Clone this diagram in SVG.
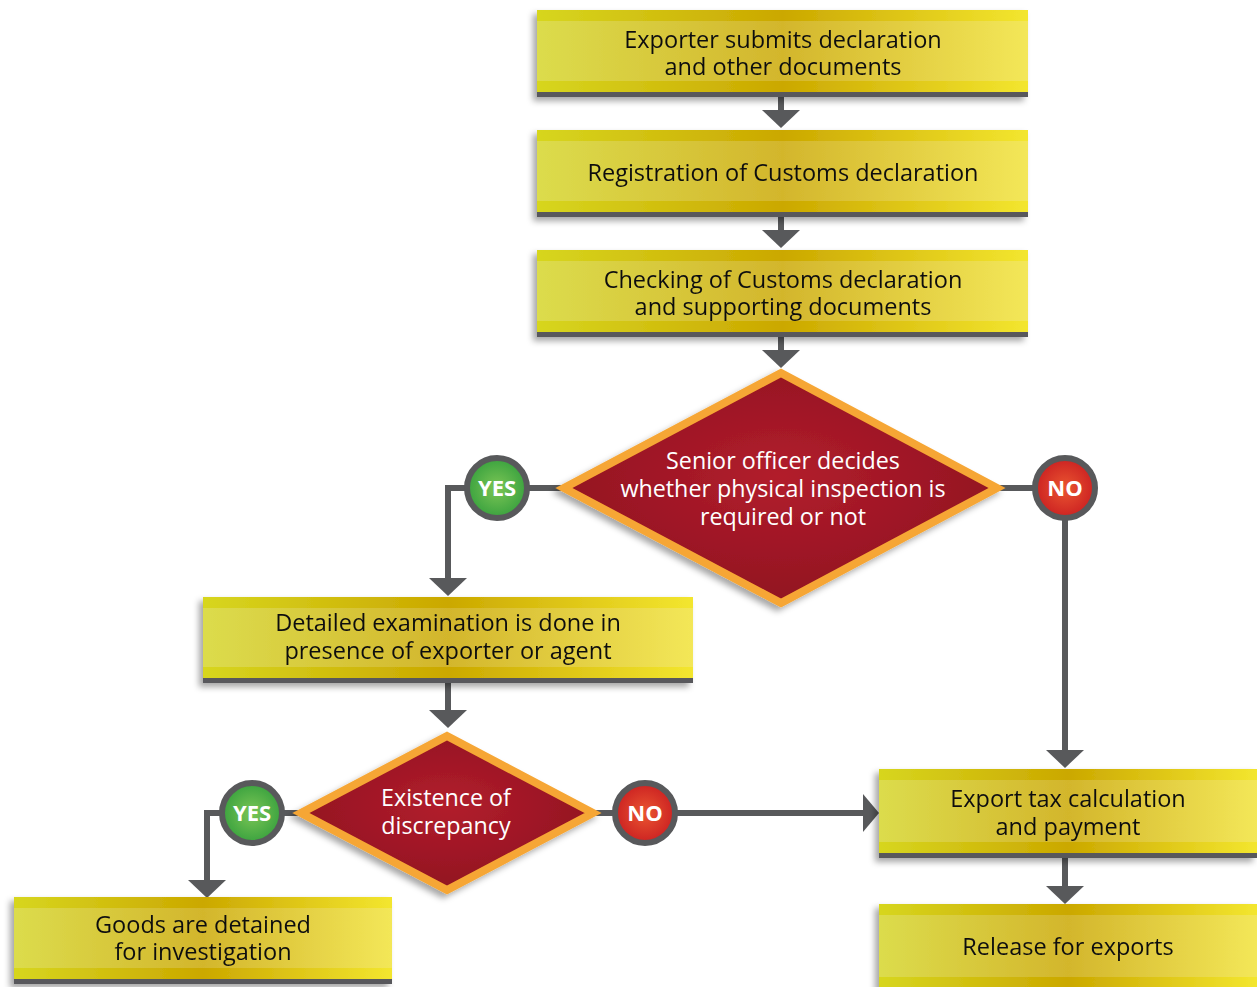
<svg xmlns="http://www.w3.org/2000/svg" width="1257" height="987" viewBox="0 0 1257 987">
<defs>
<linearGradient id="band" x1="0" y1="0" x2="1" y2="0">
<stop offset="0" stop-color="#d7d61f"/><stop offset="0.5" stop-color="#cba800"/><stop offset="1" stop-color="#f3e62f"/>
</linearGradient>
<linearGradient id="body" x1="0" y1="0" x2="1" y2="0">
<stop offset="0" stop-color="#dcdc4c"/><stop offset="0.5" stop-color="#d3b62c"/><stop offset="1" stop-color="#f3e758"/>
</linearGradient>
<radialGradient id="red" cx="0.5" cy="0.45" r="0.6">
<stop offset="0" stop-color="#b21e2c"/><stop offset="1" stop-color="#8e1020"/>
</radialGradient>
<radialGradient id="green" cx="0.5" cy="0.5" r="0.5">
<stop offset="0" stop-color="#7cc655"/><stop offset="1" stop-color="#3aa23f"/>
</radialGradient>
<radialGradient id="nored" cx="0.5" cy="0.5" r="0.5">
<stop offset="0" stop-color="#ea5530"/><stop offset="1" stop-color="#cc2222"/>
</radialGradient>
<filter id="sh" x="-5%" y="-10%" width="110%" height="130%">
<feDropShadow dx="-4" dy="4" stdDeviation="3" flood-color="#000" flood-opacity="0.35"/>
</filter>
</defs>
<style>
.c{stroke:#58595b;stroke-width:6;fill:none}
.ah{fill:#58595b}
.t{font-family:"Open Sans","Liberation Sans",sans-serif;font-size:23.5px;fill:#111;text-anchor:middle}
.w{font-family:"Open Sans","Liberation Sans",sans-serif;font-size:23.3px;fill:#fff;text-anchor:middle}
.b{font-family:"Open Sans","Liberation Sans",sans-serif;font-size:22px;font-weight:bold;fill:#fff;text-anchor:middle}
.ring{stroke:#58595b;stroke-width:6}
.dia{fill:url(#red);stroke:#f6a634;stroke-width:8;stroke-linejoin:miter}
</style>

<g id="connectors">
<path class="c" d="M781,97 V112"/><path class="ah" d="M762,110 H800 L781,128 z"/>
<path class="c" d="M781,217 V232"/><path class="ah" d="M762,230 H800 L781,248 z"/>
<path class="c" d="M781,337 V352"/><path class="ah" d="M762,350 H800 L781,368 z"/>
<path class="c" d="M562,488 H529"/>
<path class="c" d="M465,488 H448 V578"/><path class="ah" d="M429,578 H467 L448,596 z"/>
<path class="c" d="M1000,488 H1033"/>
<path class="c" d="M1065,520 V752"/><path class="ah" d="M1046,750 H1084 L1065,768 z"/>
<path class="c" d="M448,683 V712"/><path class="ah" d="M429,710 H467 L448,728 z"/>
<path class="c" d="M300,813 H284"/>
<path class="c" d="M220,813 H207 V882"/><path class="ah" d="M188,880 H226 L207,898 z"/>
<path class="c" d="M595,813 H613"/>
<path class="c" d="M677,813 H865"/><path class="ah" d="M863,794 V832 L879,813 z"/>
<path class="c" d="M1065,858 V888"/><path class="ah" d="M1046,886 H1084 L1065,904 z"/>
</g>

<g id="n1" filter="url(#sh)">
<rect x="537" y="10" width="491" height="82" fill="url(#band)"/>
<rect x="537" y="21" width="491" height="60" fill="url(#body)"/>
<rect x="537" y="92" width="491" height="5" fill="#58595b"/>
<text class="t" x="783" y="48">Exporter submits declaration</text>
<text class="t" x="783" y="75">and other documents</text>
</g>
<g id="n2" filter="url(#sh)">
<rect x="537" y="130" width="491" height="82" fill="url(#band)"/>
<rect x="537" y="141" width="491" height="60" fill="url(#body)"/>
<rect x="537" y="212" width="491" height="5" fill="#58595b"/>
<text class="t" x="783" y="181">Registration of Customs declaration</text>
</g>
<g id="n3" filter="url(#sh)">
<rect x="537" y="250" width="491" height="82" fill="url(#band)"/>
<rect x="537" y="261" width="491" height="60" fill="url(#body)"/>
<rect x="537" y="332" width="491" height="5" fill="#58595b"/>
<text class="t" x="783" y="288">Checking of Customs declaration</text>
<text class="t" x="783" y="315">and supporting documents</text>
</g>
<g id="d1">
<path class="dia" filter="url(#sh)" d="M781,373 L997,488 L781,603 L564,488 z"/>
<text class="w" x="783" y="469">Senior officer decides</text>
<text class="w" x="783" y="497">whether physical inspection is</text>
<text class="w" x="783" y="525">required or not</text>
</g>
<g id="yes1">
<circle class="ring" cx="497" cy="488" r="30" fill="url(#green)"/>
<text class="b" x="497" y="496">YES</text>
</g>
<g id="no1">
<circle class="ring" cx="1065" cy="488" r="30" fill="url(#nored)"/>
<text class="b" x="1065" y="496">NO</text>
</g>
<g id="n4" filter="url(#sh)">
<rect x="203" y="597" width="490" height="81" fill="url(#band)"/>
<rect x="203" y="608" width="490" height="59" fill="url(#body)"/>
<rect x="203" y="678" width="490" height="5" fill="#58595b"/>
<text class="t" x="448" y="631">Detailed examination is done in</text>
<text class="t" x="448" y="659">presence of exporter or agent</text>
</g>
<g id="d2">
<path class="dia" filter="url(#sh)" d="M447,736 L593,813 L447,890 L301,813 z"/>
<text class="w" x="446" y="806">Existence of</text>
<text class="w" x="446" y="834">discrepancy</text>
</g>
<g id="yes2">
<circle class="ring" cx="252" cy="813" r="30" fill="url(#green)"/>
<text class="b" x="252" y="821">YES</text>
</g>
<g id="no2">
<circle class="ring" cx="645" cy="813" r="30" fill="url(#nored)"/>
<text class="b" x="645" y="821">NO</text>
</g>
<g id="n5" filter="url(#sh)">
<rect x="14" y="897" width="378" height="82" fill="url(#band)"/>
<rect x="14" y="908" width="378" height="60" fill="url(#body)"/>
<rect x="14" y="979" width="378" height="5" fill="#58595b"/>
<text class="t" x="203" y="933">Goods are detained</text>
<text class="t" x="203" y="960">for investigation</text>
</g>
<g id="n6" filter="url(#sh)">
<rect x="879" y="769" width="378" height="84" fill="url(#band)"/>
<rect x="879" y="780" width="378" height="62" fill="url(#body)"/>
<rect x="879" y="853" width="378" height="5" fill="#58595b"/>
<text class="t" x="1068" y="807">Export tax calculation</text>
<text class="t" x="1068" y="835">and payment</text>
</g>
<g id="n7" filter="url(#sh)">
<rect x="879" y="904" width="378" height="90" fill="url(#band)"/>
<rect x="879" y="915" width="378" height="62" fill="url(#body)"/>
<text class="t" x="1068" y="955">Release for exports</text>
</g>
</svg>
